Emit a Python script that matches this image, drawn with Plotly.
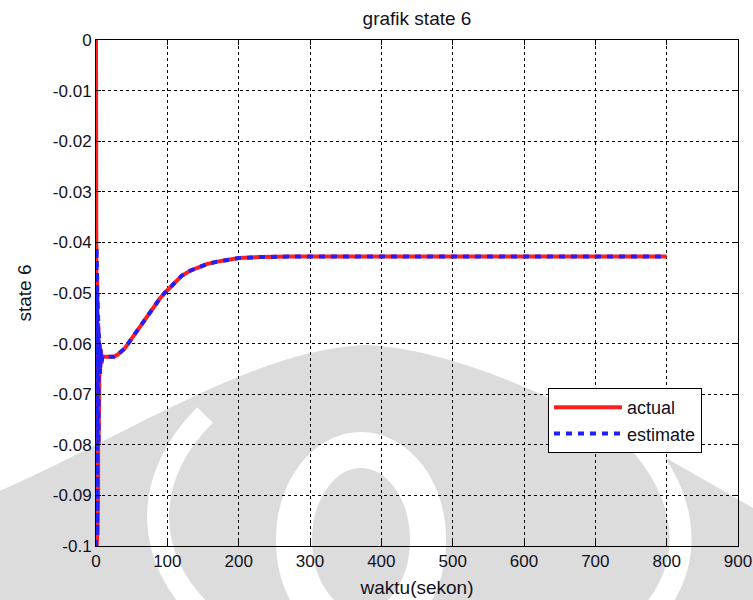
import plotly.graph_objects as go

# ---------------- data ----------------
time_s = [0, 0.2, 0.4, 0.6, 0.8, 1.0, 1.2, 1.4, 1.6, 1.8, 2.0, 2.3, 2.6, 2.9, 3.2,
          3.5, 3.9, 4.3, 5, 5.7, 6.5, 7.5, 9, 12, 20, 25, 30, 40, 48, 60, 71, 80, 90,
          97, 110, 120, 132, 145, 155, 170, 185, 200, 230, 272, 400, 600, 800]
actual = [0, -0.1, -0.039, -0.1, -0.041, -0.1, -0.044, -0.099, -0.047, -0.098,
          -0.05, -0.096, -0.053, -0.09, -0.056, -0.08, -0.058, -0.072, -0.06,
          -0.066, -0.061, -0.064, -0.0625, -0.0626, -0.0627, -0.0626, -0.0622,
          -0.061, -0.0594, -0.057, -0.0547, -0.0528, -0.051, -0.0499, -0.0479,
          -0.0466, -0.0456, -0.0448, -0.0443, -0.0438, -0.0434, -0.0431, -0.0429,
          -0.0428, -0.0428, -0.0428, -0.0428]
estimate = [-0.1, -0.1, -0.041, -0.1, -0.041, -0.1, -0.044, -0.099, -0.047, -0.098,
            -0.05, -0.096, -0.053, -0.09, -0.056, -0.08, -0.058, -0.072, -0.06,
            -0.066, -0.061, -0.064, -0.0625, -0.0626, -0.0627, -0.0626, -0.0622,
            -0.061, -0.0594, -0.057, -0.0547, -0.0528, -0.051, -0.0499, -0.0479,
            -0.0466, -0.0456, -0.0448, -0.0443, -0.0438, -0.0434, -0.0431, -0.0429,
            -0.0428, -0.0428, -0.0428, -0.0428]

x_tickvals = [0, 100, 200, 300, 400, 500, 600, 700, 800, 900]
x_ticktext = ["0", "100", "200", "300", "400", "500", "600", "700", "800", "900"]
y_tickvals = [0, -0.01, -0.02, -0.03, -0.04, -0.05, -0.06, -0.07, -0.08, -0.09, -0.1]
y_ticktext = ["0", "-0.01", "-0.02", "-0.03", "-0.04", "-0.05", "-0.06", "-0.07",
              "-0.08", "-0.09", "-0.1"]

# ---------------- layout geometry ----------------
W, H = 753, 600
ML, MR, MT, MB = 96, 15, 40, 54
PW, PH = W - ML - MR, H - MT - MB


def px(x, y):
    """window pixel -> paper coords (for the decorative watermark only)"""
    return (x - ML) / PW, (H - MB - y) / PH


def path(cmds):
    out = []
    for c in cmds:
        if isinstance(c, str):
            out.append(c)
        else:
            a, b = px(*c)
            out.append(f"{a:.4f},{b:.4f}")
    return " ".join(out)


FONT = "Liberation Sans, Arial, sans-serif"
GRAY = "#dcdcdc"

fig = go.Figure()
fig.add_trace(go.Scatter(x=time_s, y=actual, mode="lines", name="actual",
                         line=dict(color="#ff1f1f", width=4)))
fig.add_trace(go.Scatter(x=time_s, y=estimate, mode="lines", name="estimate",
                         line=dict(color="#1f1fff", width=4, dash="6px,6px")))

# watermark (decorative)
shapes = []
shapes.append(dict(type="path", xref="paper", yref="paper", layer="below",
                   path=path(["M", (-10, 495), "C", (120, 440), (250, 350), (365, 345),
                              "C", (480, 350), (620, 430), (765, 515),
                              "L", (765, 610), "L", (-10, 610), "Z"]),
                   fillcolor=GRAY, line=dict(width=0)))
shapes.append(dict(type="path", xref="paper", yref="paper", layer="below",
                   path=path(["M", (205, 615), "C", (145, 560), (140, 480), (205, 415)]),
                   line=dict(color="white", width=22)))
shapes.append(dict(type="path", xref="paper", yref="paper", layer="below",
                   path=path(["M", (650, 615), "C", (700, 560), (690, 480), (610, 415)]),
                   line=dict(color="white", width=22)))
cx, cy, rx, ry = 361, 540, 67, 90
x0, y0 = px(cx - rx, cy - ry)
x1, y1 = px(cx + rx, cy + ry)
shapes.append(dict(type="circle", xref="paper", yref="paper", layer="below",
                   x0=x0, x1=x1, y0=y1, y1=y0, fillcolor=GRAY,
                   line=dict(color="white", width=36)))

lx, ly = px(548, 388)
fig.update_layout(
    width=W, height=H,
    margin=dict(l=ML, r=MR, t=MT, b=MB, autoexpand=False),
    paper_bgcolor="white", plot_bgcolor="rgba(0,0,0,0)",
    font=dict(family=FONT, size=17, color="#111122"),
    title=dict(text="grafik state 6", x=(ML + PW / 2) / W, xanchor="center",
               y=1 - 18 / H, yanchor="middle", font=dict(size=19)),
    showlegend=True,
    legend=dict(x=lx, y=ly, xanchor="left", yanchor="top",
                bgcolor="white", bordercolor="black", borderwidth=1,
                font=dict(size=18), itemwidth=68, tracegroupgap=2),
    shapes=shapes,
)
fig.update_xaxes(range=[0, 900], tickvals=x_tickvals, ticktext=x_ticktext,
                 automargin=False,
                 showline=True, linecolor="black", linewidth=1, mirror="ticks",
                 ticks="inside", ticklen=5, tickcolor="black",
                 showgrid=True, gridcolor="black", griddash="3px,3px", gridwidth=1,
                 zeroline=False,
                 title=dict(text="waktu(sekon)", font=dict(size=19), standoff=10))
fig.update_yaxes(range=[-0.1, 0], tickvals=y_tickvals, ticktext=y_ticktext,
                 automargin=False,
                 showline=True, linecolor="black", linewidth=1, mirror="ticks",
                 ticks="inside", ticklen=5, tickcolor="black",
                 showgrid=True, gridcolor="black", griddash="3px,3px", gridwidth=1,
                 zeroline=False,
                 title=dict(text="state 6", font=dict(size=19), standoff=16))

fig.write_html("out.html",
               config={"displayModeBar": False},
               post_script="document.body.style.margin='0';"
                           "document.body.style.overflow='hidden';")
